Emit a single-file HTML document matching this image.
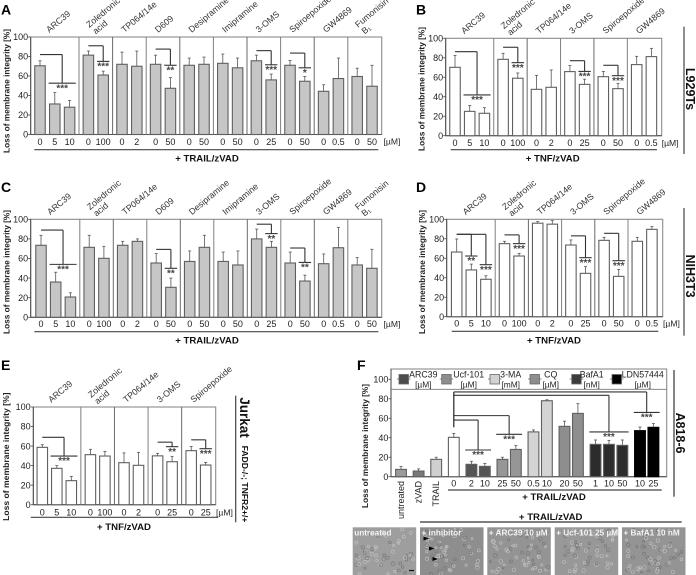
<!DOCTYPE html>
<html lang="en">
<head>
<meta charset="utf-8">
<title>Loss of membrane integrity panels</title>
<style>
html,body{margin:0;padding:0;background:#fff;}
body{width:696px;height:575px;overflow:hidden;}
svg{display:block;font-family:"Liberation Sans",Arial,sans-serif;filter:blur(0.3px);}
</style>
</head>
<body>
<svg id="figure" width="696" height="575" viewBox="0 0 696 575" xmlns="http://www.w3.org/2000/svg"></svg>
<script>
/* ---------- Data: Panel A ---------- */
var panelAGroups = ['ARC39','Zoledronic|acid','TP064/14e','D609','Desipramine','Imipramine','3-OMS','Spiroepoxide','GW4869','Fumonisin|B₁'];
var panelASizes = [3,2,2,2,2,2,2,2,2,2];
var panelADoses = ['0','5','10','0','100','0','2','0','50','0','50','0','50','0','25','0','50','0','0.5','0','50'];
var panelAValues = [70.5,31.3,28,81.4,61,72,70,72,47.4,71,72,73,68.4,75.6,56,71,54.6,44.3,57.4,59.5,49.5];
var panelAErrors = [75.6,43,35,85.6,65,84.5,85.6,81.4,58.4,78.4,79.4,82.5,78.4,81.4,62,76,59.5,51,78.4,68,71];
var panelABrackets = [
  {from:0,to:[1,2],top:82,low:52.6,stars:'***'},
  {from:3,to:[4],top:91,low:75,stars:'***'},
  {from:7,to:[8],top:87.6,low:71,stars:'**'},
  {from:13,to:[14],top:86,low:71.5,stars:'***'},
  {from:15,to:[16],top:83.5,low:68.4,stars:'*'}
];
/* ---------- Data: Panel B ---------- */
var panelBGroups = ['ARC39','Zoledronic|acid','TP064/14e','3-OMS','Spiroepoxide','GW4869'];
var panelBSizes = [3,2,2,2,2,2];
var panelBDoses = ['0','5','10','0','100','0','2','0','25','0','50','0','0.5'];
var panelBValues = [70.2,25,23,78.4,59,47.6,49.7,65.8,52.7,60.6,48.3,73,81.2];
var panelBErrors = [82.5,31,28.8,84.6,64.4,62,67.5,72,58,66,53.8,81.5,89.7];
var panelBBrackets = [
  {from:0,to:[1,2],top:86.3,low:41.8,stars:'***'},
  {from:3,to:[4],top:90.8,low:75,stars:'***'},
  {from:7,to:[8],top:77,low:66,stars:'***'},
  {from:9,to:[10],top:72.3,low:61.6,stars:'***'}
];
/* ---------- Data: Panel C ---------- */
var panelCGroups = ['ARC39','Zoledronic|acid','TP064/14e','D609','Desipramine','Imipramine','3-OMS','Spiroepoxide','GW4869','Fumonisin|B₁'];
var panelCSizes = [3,2,2,2,2,2,2,2,2,2];
var panelCDoses = ['0','5','10','0','100','0','2','0','50','0','50','0','50','0','25','0','50','0','0.5','0','50'];
var panelCValues = [73.5,36,20.7,71.4,60.2,73.5,77.5,55.4,30.6,57,71.4,57,53.4,80,71.4,55.4,37,54.7,71,53.4,50];
var panelCErrors = [83.7,46,25,83.7,72.4,77.5,80,65,40,67.7,83.7,66.6,67.7,90,77.5,66.6,43,64.6,91.8,61,69.4];
var panelCBrackets = [
  {from:0,to:[1,2],top:89,low:54,stars:'***'},
  {from:7,to:[8],top:69.3,low:50,stars:'**'},
  {from:13,to:[14],top:95,low:85.4,stars:'**'},
  {from:15,to:[16],top:70.7,low:56,stars:'**'}
];
/* ---------- Data: Panel D ---------- */
var panelDGroups = ['ARC39','Zoledronic|acid','TP064/14e','3-OMS','Spiroepoxide','GW4869'];
var panelDSizes = [3,2,2,2,2,2];
var panelDDoses = ['0','5','10','0','100','0','2','0','25','0','50','0','0.5'];
var panelDValues = [66.4,48,38.4,75,62.3,96,95,73.6,44.5,78.4,41.4,77.4,89.7];
var panelDErrors = [79.8,54,42,77.4,65,97.7,98.6,78.8,51.4,81.5,48.6,81.5,92.5];
var panelDBrackets = [
  {from:0,to:[1],top:84.6,low:62.3,stars:'**'},
  {from:0,to:[2],top:84.6,low:53.4,stars:'***'},
  {from:3,to:[4],top:84,low:75,stars:'***'},
  {from:7,to:[8],top:83,low:60.6,stars:'***'},
  {from:9,to:[10],top:85.6,low:57.5,stars:'***'}
];
/* ---------- Data: Panel E ---------- */
var panelEGroups = ['ARC39','Zoledronic|acid','TP064/14e','3-OMS','Spiroepoxide'];
var panelESizes = [3,2,2,2,2];
var panelEDoses = ['0','5','10','0','100','0','2','0','25','0','25'];
var panelEValues = [58.7,37.2,24.6,51.2,49.8,43,40.3,50,44,55.3,40.6];
var panelEErrors = [61.4,40,29,56.7,54.6,53,53.6,52.6,49.5,59.7,43.3];
var panelEBrackets = [
  {from:0,to:[1,2],top:69,low:49.8,stars:'***'},
  {from:7,to:[8],top:64,low:59.4,stars:'**'},
  {from:9,to:[10],top:66.4,low:57.3,stars:'***'}
];
/* ---------- Data: Panel F ---------- */
var panelFSizes = [1,1,1,1,2,2,2,2,3,2];
var panelFDoses = ['','','','0','2','10','25','50','0.5','10','20','50','1','10','50','10','25'];
var panelFValues = [7.5,5.8,17.8,40.4,12.7,10.6,17.8,28,46,78,51.7,65,33.2,33.2,32.2,47.3,50.7];
var panelFErrors = [10.6,8,20,44.5,15.8,13.7,20,32,48,79,57,75,37.7,37.3,37.7,51,54.5];
var panelFSideLabels = ['untreated','zVAD','TRAIL'];
var panelFLegendNames = ['ARC39','Ucf-101','3-MA','CQ','BafA1','LDN57444'];
var panelFLegendUnits = ['[µM]','[µM]','[mM]','[µM]','[nM]','[µM]'];
var panelFBrackets = [
  {from:3,to:[4,5],top:58.2,low:27.4,stars:'***'},
  {from:3,to:[6,7],top:62.7,low:43.5,stars:'***'},
  {from:3,to:[12,13,14],top:83.6,low:46,stars:'***'},
  {from:3,to:[15,16],top:87,low:66,stars:'***'}
];
var yTicks = [0,20,40,60,80,100];
var micrographLabels = ['untreated','+ inhibitor','+ ARC39 10 µM','+ Ucf-101 25 µM','+ BafA1 10 nM'];

/* ---------- Styling by series (not data) ---------- */
var panelFFill = ['#9a9a9a','#787878','#cfcfcf','#ffffff','#555555','#555555','#969696','#969696','#d4d4d4','#d4d4d4','#8e8e8e','#8e8e8e','#2c2c2c','#2c2c2c','#2c2c2c','#000000','#000000'];
var legendFill = ['#4d4d4d','#8e8e8e','#d2d2d2','#8e8e8e','#3c3c3c','#000000'];

var NS = 'http://www.w3.org/2000/svg';
var root = document.getElementById('figure');

function el(tag, attrs, parent) {
  var n = document.createElementNS(NS, tag);
  for (var k in attrs) { n.setAttribute(k, attrs[k]); }
  (parent || root).appendChild(n);
  return n;
}
function label(str, attrs, parent, name) {
  var t = el('text', attrs, parent);
  t.textContent = str;
  
  
  return t;
}
function line(x1, y1, x2, y2, color, w, parent, name) {
  var l = el('line', {x1:x1, y1:y1, x2:x2, y2:y2, stroke:color, 'stroke-width':w}, parent);
  
  
  return l;
}

function drawPanel(cfg) {
  var g = el('g', {});
  
  

  function yScale(v) { return cfg.y0 + (cfg.y100 - cfg.y0) * v / 100; }
  var groupOf = [];
  cfg.sizes.forEach(function (s, gi) { for (var i = 0; i < s; i++) { groupOf.push(gi); } });
  function xScale(i) { return cfg.x0 + cfg.slot * i + cfg.gap * groupOf[i]; }

  // frame
  var frameTop = cfg.boxTop !== undefined ? cfg.boxTop : cfg.y100;
  var frame = el('rect', {x:cfg.left, y:frameTop, width:cfg.right - cfg.left, height:cfg.y0 - frameTop, fill:'#fff', stroke:'#8c8c8c', 'stroke-width':1.1}, g);
  
  
  line(cfg.left, frameTop, cfg.left, cfg.y0, '#444', 0.9, g, 'y-axis-line');
  line(cfg.left, cfg.y0, cfg.right, cfg.y0, '#555', 1.1, g, 'x-axis-line');

  // separators
  if (cfg.separators) {
    var cum = 0;
    for (var s = 0; s < cfg.sizes.length - 1; s++) {
      cum += cfg.sizes[s];
      var sx = (xScale(cum - 1) + xScale(cum)) / 2;
      line(sx, cfg.y100, sx, cfg.y0, s % 2 ? '#6a6a6a' : '#808080', 1, g, 'group-separator');
    }
  }

  // y ticks
  yTicks.forEach(function (t) {
    var y = yScale(t);
    line(cfg.left - 2.5, y, cfg.left, y, '#444', 0.8, g, 'y-tick');
    label(String(t), {x:cfg.left - 2.6, y:y + 3.2, 'text-anchor':'end', 'font-size':9, fill:'#222'}, g, 'y-tick-label');
  });

  // y title
  label('Loss of membrane integrity [%]', {x:0, y:0, 'text-anchor':'middle', 'font-size':cfg.titleSize || 8.3, 'font-weight':'bold', fill:'#222', transform:'translate(' + (cfg.titleX + 3) + ',' + cfg.titleY + ') rotate(-90)'}, g, 'y-axis-title');

  // bars
  var halfW = cfg.barWidth / 2;
  cfg.values.forEach(function (v, i) {
    var cx = xScale(i);
    var yv = yScale(v);
    var fill = cfg.fills ? cfg.fills[i] : cfg.fill;
    var stroke = (cfg.fills && fill === '#000000') ? '#000' : '#606060';
    var b = el('rect', {x:cx - halfW, y:yv, width:cfg.barWidth, height:cfg.y0 - yv, fill:fill, stroke:stroke, 'stroke-width':1.1}, g);
    
    
    var ye = yScale(cfg.errors[i]);
    line(cx, yv, cx, ye, '#555', 0.8, g, 'error-bar');
    line(cx - 1.5, ye, cx + 1.5, ye, '#555', 0.8, g, 'error-cap');
    if (cfg.doses[i]) {
      label(cfg.doses[i], {x:cx, y:cfg.doseY + 3.2, 'text-anchor':'middle', 'font-size':9, fill:'#222'}, g, 'dose-label');
    }
  });

  // group labels
  if (cfg.groups) {
    var c2 = 0;
    cfg.groups.forEach(function (name, gi) {
      var first = c2;
      var size = cfg.sizes[gi];
      c2 += size;
      var center = (xScale(first) + xScale(first + 1)) / 2;
      if (gi === 0) { center = xScale(1) - 0.5; }
      var parts = name.split('|');
      if (parts.length === 1) {
        label(parts[0], {x:0, y:0, 'font-size':8.8, fill:'#333', transform:'translate(' + (center - 5) + ',' + (cfg.y100 - 4) + ') rotate(-40)'}, g, 'group-label');
      } else {
        label(parts[0], {x:0, y:0, 'font-size':8.8, fill:'#333', transform:'translate(' + (center - 6.5) + ',' + (cfg.y100 - 9) + ') rotate(-40)'}, g, 'group-label');
        label(parts[1], {x:0, y:0, 'font-size':8.8, fill:'#333', transform:'translate(' + center + ',' + (cfg.y100 - 2.5) + ') rotate(-40)'}, g, 'group-label');
      }
    });
  }

  // brackets
  cfg.brackets.forEach(function (br) {
    var xl = xScale(br.from);
    var xa = xScale(br.to[0]);
    var xb = xScale(br.to[br.to.length - 1]);
    var xm = (xa + xb) / 2;
    var yt2 = yScale(br.top);
    var yl = yScale(br.low);
    line(xl, yt2, xm, yt2, '#333', 1.1, g, 'significance-bracket-top');
    line(xm, yt2, xm, yl, '#333', 1.1, g, 'significance-bracket-drop');
    line(xa - 6.2, yl, xb + 6.2, yl, '#333', 1.1, g, 'significance-bracket-base');
    label(br.stars, {x:xm, y:yl + 8.2, 'text-anchor':'middle', 'font-size':10, 'font-weight':'bold', fill:'#444'}, g, 'significance-stars');
  });

  // treatment
  line(cfg.under[0], cfg.under[2], cfg.under[1], cfg.under[2], '#444', 1.2, g, 'treatment-underline');
  label(cfg.treatment, {x:cfg.treatX, y:cfg.treatY + 3.5, 'text-anchor':'middle', 'font-size':9.6, 'font-weight':'bold', fill:'#111'}, g, 'treatment-label');
  if (cfg.unitX) {
    label('[µM]', {x:cfg.unitX, y:cfg.doseY + 3, 'font-size':8.6, fill:'#222'}, g, 'unit-label');
  }
  label(cfg.id, {x:cfg.idX, y:cfg.idY, 'font-size':14, 'font-weight':'bold', fill:'#000'}, g, 'panel-letter');
  return {x:xScale, y:yScale, g:g};
}

var greyBar = '#c6c6c6';
drawPanel({id:'A', idX:1, idY:14.3, left:30.7, right:381.7, y0:134.5, y100:37, x0:40, slot:14.8, gap:4, barWidth:10.5,
  sizes:panelASizes, groups:panelAGroups, doses:panelADoses, values:panelAValues, errors:panelAErrors, brackets:panelABrackets,
  fill:greyBar, separators:true, doseY:141.7, under:[34.3,378.3,149.7], treatment:'+ TRAIL/zVAD', treatX:207, treatY:158, unitX:383.5, titleX:6.3, titleY:91});
drawPanel({id:'B', idX:416, idY:14.3, left:445.7, right:661.7, y0:135.7, y100:38.3, x0:455, slot:14.7, gap:4, barWidth:10.5,
  sizes:panelBSizes, groups:panelBGroups, doses:panelBDoses, values:panelBValues, errors:panelBErrors, brackets:panelBBrackets,
  fill:'#fff', separators:true, doseY:143, under:[450.7,657,149.7], treatment:'+ TNF/zVAD', treatX:552.7, treatY:158, unitX:661.7, titleX:421.5, titleY:89});
drawPanel({id:'C', idX:1, idY:192, left:30.7, right:381.7, y0:317.3, y100:219.3, x0:41, slot:14.7, gap:4.1, barWidth:10.5,
  sizes:panelCSizes, groups:panelCGroups, doses:panelCDoses, values:panelCValues, errors:panelCErrors, brackets:panelCBrackets,
  fill:greyBar, separators:true, doseY:324, under:[34.3,378.3,331.7], treatment:'+ TRAIL/zVAD', treatX:207, treatY:340, unitX:383.5, titleX:6.3, titleY:272});
drawPanel({id:'D', idX:416, idY:192, left:446.7, right:662.7, y0:316.7, y100:219.3, x0:456.7, slot:14.6, gap:4, barWidth:10.5,
  sizes:panelDSizes, groups:panelDGroups, doses:panelDDoses, values:panelDValues, errors:panelDErrors, brackets:panelDBrackets,
  fill:'#fff', separators:true, doseY:323.3, under:[451.7,658.3,331.3], treatment:'+ TNF/zVAD', treatX:554, treatY:340, unitX:663, titleX:421.8, titleY:272});
drawPanel({id:'E', idX:1, idY:370, left:33.3, right:215.7, y0:504.7, y100:407, x0:42.3, slot:14.5, gap:4.6, barWidth:10.5,
  sizes:panelESizes, groups:panelEGroups, doses:panelEDoses, values:panelEValues, errors:panelEErrors, brackets:panelEBrackets,
  fill:'#fff', separators:true, doseY:512.3, under:[30.7,218.3,517.3], treatment:'+ TNF/zVAD', treatX:124, treatY:526.3, unitX:216, titleX:6, titleY:456.7, titleSize:8.6});
var pf = drawPanel({id:'F', idX:357, idY:370, left:391, right:666.7, y0:476.7, y100:379.3, boxTop:369, x0:401, slot:13.43, gap:4.17, barWidth:10.8,
  sizes:panelFSizes, doses:panelFDoses, values:panelFValues, errors:panelFErrors, brackets:panelFBrackets,
  fills:panelFFill, separators:false, doseY:483.3, under:[448,661.7,490], treatment:'+ TRAIL/zVAD', treatX:554, treatY:496.7, titleX:365, titleY:446});

/* Panel F extras */
(function () {
  var g = pf.g;
  line(391, 389.3, 666.7, 389.3, '#777', 0.9, g, 'legend-divider');
  var x3 = pf.x(3);
  line(x3, pf.y(87), x3, pf.y(50.7), '#222', 1.2, g, 'bracket-trunk');
  panelFSideLabels.forEach(function (name, i) {
    label(name, {x:0, y:0, 'text-anchor':'end', 'font-size':9, fill:'#222', transform:'translate(' + (pf.x(i) + 3) + ',481) rotate(-90)'}, g, 'control-label');
  });
  panelFLegendNames.forEach(function (name, i) {
    var swatchX = [399,441.7,490,530,571.7,612][i];
    var textX = [423.3,468.7,510.7,550.7,591.7,642.7][i];
    line(swatchX - 2, 379, swatchX + 11.5, 379, '#555', 0.7, g, 'legend-line');
    var r = el('rect', {x:swatchX, y:374.5, width:9.5, height:9.5, fill:legendFill[i], stroke:'#666', 'stroke-width':0.8}, g);
    
    
    label(name, {x:textX, y:377.4, 'text-anchor':'middle', 'font-size':8.8, fill:'#222'}, g, 'legend-entry');
    label(panelFLegendUnits[i], {x:textX, y:387.4, 'text-anchor':'middle', 'font-size':8.4, fill:'#222'}, g, 'legend-unit');
  });
})();

/* Cell-line side labels */
function sideLabel(text, x, cy, size, name, weight) {
  label(text, {x:0, y:0, 'text-anchor':'middle', 'font-size':size, 'font-weight':weight || 'bold', fill:'#111', transform:'translate(' + x + ',' + cy + ') rotate(90)'}, root, name);
}
line(684, 26.7, 684, 154, '#444', 1.2, root, 'l929ts-divider');
sideLabel('L929Ts', 686, 89, 12.5, 'l929ts-label');
line(684, 208, 684, 335.7, '#444', 1.2, root, 'nih3t3-divider');
sideLabel('NIH3T3', 686, 276, 12.5, 'nih3t3-label');
line(235.7, 395.7, 235.7, 522.3, '#444', 1.2, root, 'jurkat-divider');
sideLabel('Jurkat', 240, 417.5, 13.5, 'jurkat-label');
sideLabel('FADD-/-; TNFR2+/+', 242, 484, 8.6, 'jurkat-genotype-label');
line(674, 370, 674, 496.7, '#666', 1.6, root, 'a818-divider');
sideLabel('A818-6', 676, 433, 12.5, 'a818-label');

/* Micrographs row */
line(420, 522, 681.7, 522, '#333', 1.2, root, 'micrograph-treatment-underline');
label('+ TRAIL/zVAD', {x:550.7, y:520, 'text-anchor':'middle', 'font-size':9.6, 'font-weight':'bold', fill:'#111'}, root, 'micrograph-treatment-label');
var micrographX = [352.7, 420, 487.3, 554.7, 622];
var seed = 12345;
function rnd() { seed = (seed * 1103515 + 12345) % 2147483648; return seed / 2147483648; }
micrographX.forEach(function (mx, mi) {
  var g = el('g', {});
  
  
  var bg = el('rect', {x:mx, y:527.3, width:63.5, height:47.7, fill:['#9e9e9e','#8e8e8e','#949494','#989898','#949494'][mi]}, g);
  
  
  for (var c = 0; c < 55; c++) {
    var cx = mx + 3 + rnd() * 57.5;
    var cy = 529 + rnd() * 45;
    var ring = el('circle', {cx:cx.toFixed(1), cy:cy.toFixed(1), r:(1 + rnd() * 0.9).toFixed(1), fill:'none', stroke:rnd() > 0.4 ? '#c4c4c4' : '#747474', 'stroke-width':0.6}, g);
    
    
  }
  label(micrographLabels[mi], {x:mx + 1.5, y:535.4, 'font-size':8.2, 'font-weight':'bold', fill:'#f4f4f4'}, g, 'micrograph-label');
});
[[426,538.5],[431.5,548.5],[435,559]].forEach(function (p) {
  var a = el('polygon', {points:(p[0] - 2.5) + ',' + (p[1] - 2) + ' ' + (p[0] + 3) + ',' + p[1] + ' ' + (p[0] - 2.5) + ',' + (p[1] + 2), fill:'#000'});
  
  
});
line(409, 570.5, 414, 570.5, '#111', 1.2, root, 'scale-bar');
</script>
</body>
</html>
